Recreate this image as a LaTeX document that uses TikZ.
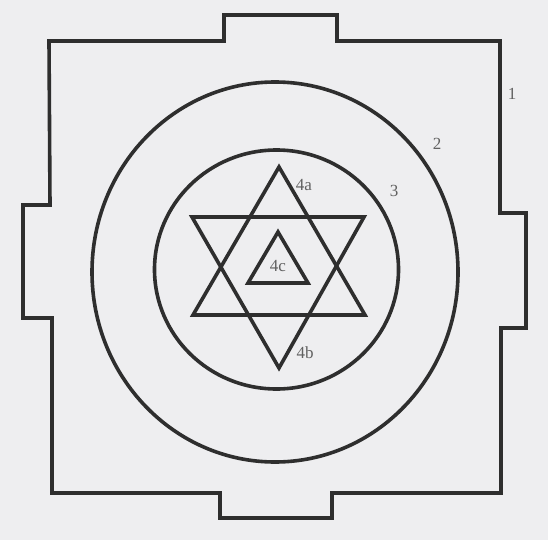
\documentclass[tikz,border=0pt]{standalone}
\usepackage{fontspec}
\setmainfont{Liberation Serif}
\begin{document}
\begin{tikzpicture}[x=1pt,y=-1pt,
  ink/.style={draw=black!82, line width=3.6pt, line join=miter},
  lbl/.style={text=black!62, font=\fontsize{17}{17}\selectfont, inner sep=0pt}]
\fill[fill={rgb,255:red,238;green,238;blue,240}] (0,0) rectangle (548,540);
\useasboundingbox (0,0) rectangle (548,540);
% outer square with gates
\draw[ink] (49,41) -- (224,41) -- (224,15) -- (337,15) -- (337,41) -- (500,41)
  -- (500,213) -- (526,213) -- (526,328) -- (501,328) -- (501,493)
  -- (332,493) -- (332,518) -- (220,518) -- (220,493) -- (52,493)
  -- (52,318) -- (23,318) -- (23,205) -- (50,205) -- cycle;
% circles
\draw[ink] (275,272) ellipse [x radius=183, y radius=190];
\draw[ink] (276.5,269.5) ellipse [x radius=122, y radius=119.5];
% hexagram
\draw[ink] (279,167) -- (365,315) -- (193,315) -- cycle;
\draw[ink] (192,217) -- (364,217) -- (279,368) -- cycle;
% inner triangle
\draw[ink] (278,232) -- (308,283) -- (248,283) -- cycle;
% labels
\node[lbl] (l1) at (512,94) {1};
\node[lbl] (l2) at (437,144) {2};
\node[lbl] (l3) at (394,191) {3};
\node[lbl] (l4a) at (304,185) {4a};
\node[lbl] (l4c) at (278,266) {4c};
\node[lbl] (l4b) at (305,353) {4b};
\end{tikzpicture}
\end{document}
